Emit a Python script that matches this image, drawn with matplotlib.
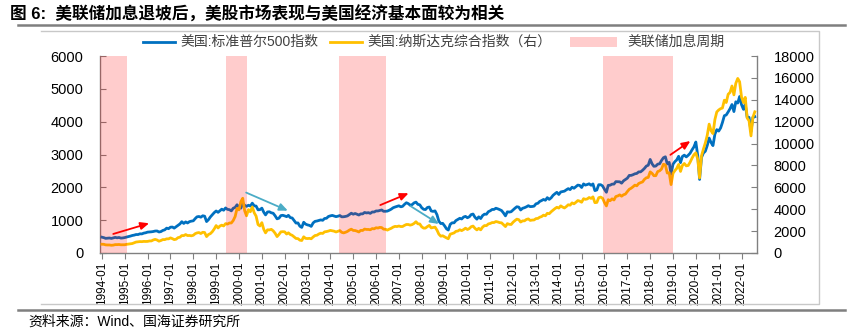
import matplotlib

matplotlib.use("Agg")
import matplotlib.dates as mdates
import matplotlib.pyplot as plt
import pandas as pd
from matplotlib.lines import Line2D
from matplotlib.patches import Rectangle

plt.rcParams["font.family"] = ["Liberation Sans", "Noto Sans CJK SC", "DejaVu Sans"]

BLUE = "#0070C0"
GOLD = "#FFC000"
SHADE = "#FF0000"
ARROW_RED = "#FF0000"
ARROW_BLUE = "#4BACC6"
GREY = "#808080"

# monthly, 1994-01 .. 2022-08
dates = pd.date_range("1994-01-01", "2022-08-01", freq="MS")

sp500 = [
    481.6, 467.1, 445.8, 450.9, 456.5, 444.3, 458.3, 475.5, 462.7, 472.4, 453.7, 459.3,
    470.4, 487.4, 500.7, 514.7, 533.4, 544.8, 562.1, 561.9, 584.4, 581.5, 605.4, 615.9,
    636.0, 640.4, 645.5, 654.2, 669.1, 670.6, 639.9, 652.0, 687.3, 705.3, 757.0, 740.7,
    786.2, 790.8, 757.1, 801.3, 848.3, 885.1, 954.3, 899.5, 947.3, 914.6, 955.4, 970.4,
    980.3, 1049.3, 1101.8, 1111.8, 1090.8, 1133.8, 1120.7, 957.3, 1017.0, 1098.7, 1163.6, 1229.2,
    1279.6, 1238.3, 1286.4, 1335.2, 1301.8, 1372.7, 1328.7, 1320.4, 1282.7, 1362.9, 1388.9, 1469.3,
    1394.5, 1366.4, 1510.0, 1452.4, 1420.6, 1454.6, 1430.8, 1517.7, 1436.5, 1429.4, 1315.2, 1320.3,
    1366.0, 1239.9, 1160.3, 1249.5, 1255.8, 1224.4, 1211.2, 1133.6, 1040.9, 1059.8, 1139.5, 1148.1,
    1130.2, 1106.7, 1147.4, 1076.9, 1067.1, 989.8, 911.6, 916.1, 815.3, 780.0, 936.3, 879.8,
    855.7, 841.2, 810.0, 916.9, 963.6, 974.5, 990.3, 1008.0, 996.0, 1050.7, 1058.2, 1111.9,
    1131.1, 1144.9, 1126.2, 1107.3, 1120.7, 1140.8, 1101.7, 1104.2, 1114.6, 1130.2, 1173.8, 1211.9,
    1181.3, 1203.6, 1180.6, 1156.9, 1191.5, 1191.3, 1234.2, 1220.3, 1228.8, 1207.0, 1249.5, 1248.3,
    1280.1, 1280.7, 1294.9, 1310.6, 1270.1, 1270.2, 1276.7, 1303.8, 1335.9, 1377.9, 1400.6, 1418.3,
    1438.2, 1406.8, 1420.9, 1482.4, 1530.6, 1503.4, 1455.3, 1474.0, 1526.8, 1549.4, 1481.1, 1468.4,
    1378.6, 1330.6, 1322.7, 1385.6, 1400.4, 1280.0, 1267.4, 1282.8, 1166.4, 968.8, 896.2, 903.3,
    825.9, 735.1, 700.0, 872.8, 919.1, 919.3, 987.5, 1020.6, 1057.1, 1036.2, 1095.6, 1115.1,
    1073.9, 1104.5, 1169.4, 1186.7, 1089.4, 1030.7, 1101.6, 1049.3, 1141.2, 1183.3, 1180.6, 1257.6,
    1286.1, 1327.2, 1325.8, 1363.6, 1345.2, 1320.6, 1292.3, 1218.9, 1131.4, 1253.3, 1247.0, 1257.6,
    1312.4, 1365.7, 1408.5, 1397.9, 1310.3, 1362.2, 1379.3, 1406.6, 1440.7, 1412.2, 1416.2, 1426.2,
    1498.1, 1514.7, 1569.2, 1597.6, 1630.7, 1606.3, 1685.7, 1633.0, 1681.6, 1756.5, 1805.8, 1848.4,
    1782.6, 1859.5, 1872.3, 1884.0, 1923.6, 1960.2, 1930.7, 2003.4, 1972.3, 2018.1, 2067.6, 2058.9,
    1995.0, 2104.5, 2067.9, 2085.5, 2107.4, 2063.1, 2103.8, 1900.0, 1920.0, 2079.4, 2080.4, 2043.9,
    1940.2, 1850.0, 2059.7, 2065.3, 2097.0, 2098.9, 2173.6, 2171.0, 2168.3, 2126.2, 2199.0, 2238.8,
    2278.9, 2363.6, 2362.7, 2384.2, 2411.8, 2423.4, 2470.3, 2471.7, 2519.4, 2575.3, 2647.6, 2673.6,
    2850.0, 2713.8, 2640.9, 2648.1, 2705.3, 2718.4, 2816.3, 2901.5, 2930.0, 2711.7, 2760.2, 2400.0,
    2704.1, 2784.5, 2834.4, 2945.8, 2752.1, 2941.8, 2980.4, 2926.5, 2976.7, 3037.6, 3141.0, 3230.8,
    3380.0, 2954.2, 2240.0, 2912.4, 3044.3, 3100.3, 3271.1, 3500.3, 3363.0, 3270.0, 3621.6, 3756.1,
    3714.2, 3811.2, 3972.9, 4181.2, 4204.1, 4297.5, 4395.3, 4522.7, 4307.5, 4605.4, 4567.0, 4766.2,
    4515.6, 4373.9, 4530.4, 4131.9, 4132.2, 3700.0, 4130.3, 4150.0,
]

nasdaq = [
    800.5, 792.5, 743.5, 733.8, 735.2, 706.0, 722.2, 765.6, 764.3, 777.5, 750.3, 752.0,
    755.2, 793.7, 817.2, 844.0, 864.6, 933.5, 1001.2, 1020.1, 1043.5, 1036.1, 1059.2, 1052.1,
    1059.8, 1100.1, 1101.4, 1190.5, 1243.4, 1185.0, 1080.6, 1141.5, 1226.9, 1221.5, 1292.6, 1291.0,
    1379.9, 1309.0, 1221.7, 1260.8, 1400.3, 1442.1, 1593.8, 1587.3, 1685.7, 1593.6, 1601.0, 1570.4,
    1619.4, 1770.5, 1835.7, 1868.4, 1778.9, 1894.7, 1872.4, 1499.3, 1693.8, 1771.4, 1949.5, 2192.7,
    2505.9, 2288.0, 2461.4, 2542.9, 2470.5, 2686.1, 2638.5, 2739.4, 2746.2, 2966.4, 3336.2, 4069.3,
    3940.4, 4696.7, 5000.0, 3860.7, 3400.9, 3966.1, 3767.0, 4206.4, 3672.8, 3369.6, 2597.9, 2470.5,
    2772.7, 2151.8, 1840.3, 2116.2, 2110.5, 2160.5, 2027.1, 1805.4, 1498.8, 1690.2, 1930.6, 1950.4,
    1934.0, 1731.5, 1845.4, 1688.2, 1615.7, 1463.2, 1328.3, 1314.9, 1172.1, 1140.0, 1478.8, 1335.5,
    1320.9, 1337.5, 1300.0, 1464.3, 1595.9, 1622.8, 1735.0, 1810.5, 1786.9, 1932.2, 1960.3, 2003.4,
    2066.2, 2029.8, 1994.2, 1920.2, 1986.7, 2047.8, 1887.4, 1838.1, 1896.8, 1975.0, 2096.8, 2175.4,
    2062.4, 2051.7, 1999.2, 1921.7, 2068.2, 2057.0, 2184.8, 2152.1, 2151.7, 2120.3, 2232.8, 2205.3,
    2305.8, 2281.4, 2339.8, 2322.6, 2178.9, 2172.1, 2091.5, 2183.8, 2258.4, 2366.7, 2431.8, 2415.3,
    2463.9, 2416.2, 2421.6, 2525.1, 2604.5, 2603.2, 2546.3, 2596.4, 2701.5, 2859.1, 2661.0, 2652.3,
    2389.9, 2271.5, 2279.1, 2412.8, 2522.7, 2293.0, 2325.6, 2367.5, 2091.9, 1721.0, 1535.6, 1577.0,
    1476.4, 1377.8, 1300.0, 1717.3, 1774.3, 1835.0, 1979.0, 2009.1, 2122.4, 2045.1, 2144.6, 2269.2,
    2147.4, 2238.3, 2398.0, 2461.2, 2257.0, 2109.2, 2254.7, 2114.0, 2368.6, 2507.4, 2498.2, 2652.9,
    2700.1, 2782.3, 2781.1, 2873.5, 2835.3, 2773.5, 2756.4, 2579.5, 2415.4, 2684.4, 2620.3, 2605.2,
    2813.8, 2966.9, 3091.6, 3046.4, 2827.3, 2935.1, 2939.5, 3067.0, 3116.2, 2977.2, 3010.2, 3019.5,
    3142.1, 3160.2, 3267.5, 3328.8, 3455.9, 3403.3, 3626.4, 3589.9, 3771.5, 3919.7, 4059.9, 4176.6,
    4103.9, 4308.1, 4199.0, 4114.6, 4242.6, 4408.2, 4369.8, 4580.3, 4493.4, 4630.7, 4791.6, 4736.1,
    4635.2, 4963.5, 4900.9, 4941.4, 5070.0, 4986.9, 5128.3, 4600.0, 4620.2, 5053.8, 5108.7, 5007.4,
    4614.0, 4300.0, 4869.8, 4775.4, 4948.1, 4842.7, 5162.1, 5213.2, 5312.0, 5189.1, 5323.7, 5383.1,
    5614.8, 5825.4, 5911.7, 6047.6, 6198.5, 6140.4, 6348.1, 6428.7, 6496.0, 6727.7, 6874.0, 6903.4,
    7411.5, 7273.0, 7063.4, 7066.3, 7442.1, 7510.3, 7671.8, 8109.5, 8046.4, 7305.9, 7330.5, 6250.0,
    7281.7, 7532.5, 7729.3, 8095.4, 7453.2, 8006.2, 8175.4, 7962.9, 7999.3, 8292.4, 8665.5, 8972.6,
    9150.9, 8567.4, 6860.0, 8889.6, 9489.9, 10058.8, 10745.3, 11775.5, 11167.5, 10911.6, 12198.7, 12888.3,
    13070.7, 13192.3, 13246.9, 13962.7, 13748.7, 14504.0, 14672.7, 15259.2, 14448.6, 15498.4, 15950.0, 15645.0,
    14239.9, 13751.4, 14220.5, 12334.6, 12081.4, 10700.0, 12390.7, 12900.0,
]

# 美联储加息周期
hike_start = ["1993-12-01", "1999-06-15", "2004-05-20", "2015-12-15"]
hike_end = ["1995-02-01", "2000-05-10", "2006-06-01", "2018-12-31"]

# annotation arrows: (from date, from value, to date, to value) on the left scale
arrows_red = [
    ("1994-07-01", 580, "1996-01-25", 905),
    ("2006-03-10", 1460, "2007-06-05", 1820),
    ("2018-11-20", 2990, "2019-10-05", 3410),
]
arrows_blue = [
    ("2000-04-25", 1840, "2002-02-20", 1290),
    ("2007-07-05", 1430, "2008-10-01", 885),
]

W, H = 849, 333


def fx(px):
    return px / W


def fy(py):
    return 1 - py / H


fig = plt.figure(figsize=(W / 100, H / 100), dpi=100)
ax = fig.add_axes([fx(100), fy(253), fx(757) - fx(100), fy(56) - fy(253)])
ax2 = ax.twinx()

ax.plot(dates, sp500, color=BLUE, lw=2.0, zorder=3)
ax2.plot(dates, nasdaq, color=GOLD, lw=2.0, zorder=3)
for s, e in zip(hike_start, hike_end):
    ax2.axvspan(pd.Timestamp(s), pd.Timestamp(e), color=SHADE, alpha=0.2, lw=0, zorder=5)

for arr, col in ((arrows_red, ARROW_RED), (arrows_blue, ARROW_BLUE)):
    for d0, v0, d1, v1 in arr:
        ax2.annotate("", xy=(pd.Timestamp(d1), v1 * 3), xytext=(pd.Timestamp(d0), v0 * 3),
                     arrowprops=dict(arrowstyle="-|>,head_length=0.5,head_width=0.22",
                                     color=col, lw=1.3, shrinkA=0, shrinkB=0), zorder=6)

ax.set_xlim(pd.Timestamp("1993-12-01"), pd.Timestamp("2022-09-05"))
ax.set_ylim(0, 6000)
ax2.set_ylim(0, 18000)
ax.set_yticks(range(0, 6001, 1000))
ax2.set_yticks(range(0, 18001, 2000))
ax.xaxis.set_major_locator(mdates.YearLocator(1, month=1))
ax.xaxis.set_major_formatter(mdates.DateFormatter("%Y-%m"))

for a in (ax, ax2):
    for side in ("top",):
        a.spines[side].set_visible(False)
    for side in ("left", "right", "bottom"):
        a.spines[side].set_color(GREY)
        a.spines[side].set_linewidth(1.0)
ax.spines["right"].set_visible(False)
ax2.spines["left"].set_visible(False)
ax2.spines["bottom"].set_visible(False)

ax.tick_params(axis="x", direction="out", length=4, color=GREY, labelsize=8.5,
               rotation=90, pad=2)
ax.tick_params(axis="y", direction="in", length=4, color=GREY, labelsize=10.5, pad=12)
ax2.tick_params(axis="y", direction="in", length=4, color=GREY, labelsize=10.5, pad=12)

# legend, drawn by hand to match the source layout
TXT = "#404040"
fig.add_artist(Line2D([fx(143), fx(175)], [fy(42), fy(42)], color=BLUE, lw=2.0))
fig.text(fx(180), fy(42), "美国:标准普尔500指数", fontsize=10, color=TXT, va="center")
fig.add_artist(Line2D([fx(330), fx(362)], [fy(42), fy(42)], color=GOLD, lw=2.0))
fig.text(fx(367), fy(42), "美国:纳斯达克综合指数（右）", fontsize=10, color=TXT, va="center")
fig.add_artist(Rectangle((fx(570), fy(47)), fx(617) - fx(570), fy(37) - fy(47),
                         facecolor="#FFCCCC", edgecolor="none", transform=fig.transFigure))
fig.text(fx(627), fy(42), "美联储加息周期", fontsize=10, color=TXT, va="center")

# frame lines
fig.add_artist(Line2D([fx(18), fx(845)], [fy(25), fy(25)], color="#7f7f7f", lw=1.8))
fig.add_artist(Line2D([fx(41), fx(819), fx(819), fx(41)], [fy(31), fy(31), fy(304), fy(304)],
                      color="#c8c8c8", lw=1.0))
fig.add_artist(Line2D([fx(18), fx(845)], [fy(310), fy(310)], color="#7f7f7f", lw=1.8))

fig.text(fx(10), fy(14), "图 6:  美联储加息退坡后，美股市场表现与美国经济基本面较为相关",
         fontsize=12, fontweight="bold", va="center", color="black")
fig.text(fx(28), fy(322), "资料来源：Wind、国海证券研究所", fontsize=10, va="center",
         color="black")

fig.savefig("out.png", dpi=100)
